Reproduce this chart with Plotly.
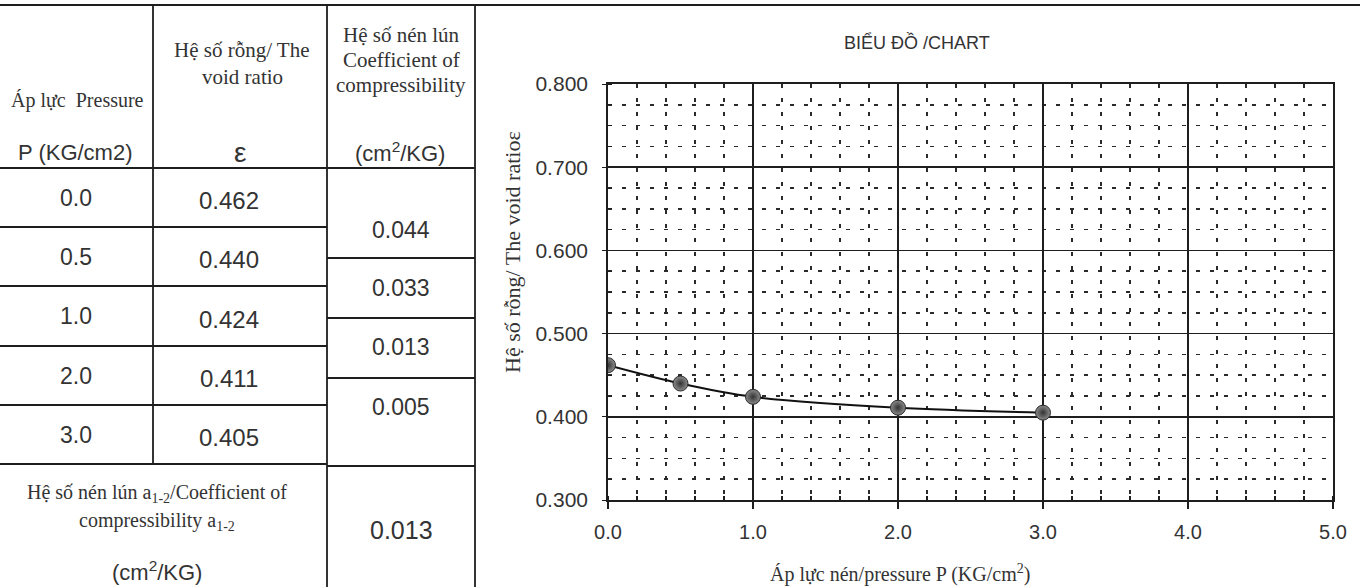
import plotly.graph_objects as go

# ---------------- data ----------------
pressure = [0.0, 0.5, 1.0, 2.0, 3.0]
void_ratio = [0.462, 0.440, 0.424, 0.411, 0.405]
coef_compress = [0.044, 0.033, 0.013, 0.005]
coef_a12 = 0.013
x_ticks = [0.0, 1.0, 2.0, 3.0, 4.0, 5.0]
y_ticks = [0.300, 0.400, 0.500, 0.600, 0.700, 0.800]

W, H = 1360, 587
def px(x):
    return x / W
def py(y):
    return 1 - y / H

INK = "#1e1e1e"
TXT = "#333333"
SERIF = "Liberation Serif, Times New Roman, serif"
SANS = "Liberation Sans, Arial, sans-serif"

fig = go.Figure()

fig.add_trace(go.Scatter(
    x=pressure, y=void_ratio, mode="lines+markers",
    line=dict(color="#111", width=2, shape="spline", smoothing=0.9),
    marker=dict(size=15, color="#8c8c8c",
                gradient=dict(type="radial", color="#333333"),
                line=dict(color="#2a2a2a", width=1)),
    showlegend=False, hoverinfo="skip"))

grid_dash = "4px,10px"
fig.update_xaxes(
    range=[0, 5], tickvals=x_ticks, ticktext=[f"{v:.1f}" for v in x_ticks],
    showgrid=True, gridcolor=INK, gridwidth=1.5,
    minor=dict(dtick=0.2, tick0=0, showgrid=True, gridcolor="#2a2a2a",
               griddash=grid_dash, gridwidth=1.5, ticks="inside", ticklen=4,
               tickcolor=INK),
    showline=True, linecolor=INK, linewidth=1.8, mirror=True,
    ticks="outside", ticklen=7, tickcolor=INK, tickwidth=1.5,
    tickfont=dict(family=SANS, size=20, color=TXT), ticklabelstandoff=6,
    zeroline=False, automargin=False, domain=[px(608), px(1333)])
fig.update_yaxes(
    range=[0.3, 0.8], tickvals=y_ticks, ticktext=[f"{v:.3f}" for v in y_ticks],
    showgrid=True, gridcolor=INK, gridwidth=1.5,
    minor=dict(dtick=0.025, tick0=0.3, showgrid=True, gridcolor="#2a2a2a",
               griddash=grid_dash, gridwidth=1.5, ticks="inside", ticklen=4,
               tickcolor=INK),
    showline=True, linecolor=INK, linewidth=1.8, mirror=True,
    ticks="outside", ticklen=4, tickcolor=INK,
    tickfont=dict(family=SANS, size=21, color=TXT), ticklabelstandoff=10,
    zeroline=False, automargin=False, domain=[py(500), py(84)])

shapes = []
def hline(y, x0, x1, w=1.8):
    shapes.append(dict(type="line", xref="paper", yref="paper",
                       x0=px(x0), x1=px(x1), y0=py(y), y1=py(y),
                       line=dict(color=INK, width=w)))
def vline(x, y0, y1, w=1.8):
    shapes.append(dict(type="line", xref="paper", yref="paper",
                       x0=px(x), x1=px(x), y0=py(y0), y1=py(y1),
                       line=dict(color=INK, width=w)))

# table & frame lines
hline(5, 0, 1360, 2.2)
vline(153, 5, 464)
vline(327, 5, 587)
vline(475, 5, 587)
hline(168, 0, 475)
row_edges = [168, 227, 286, 346, 405, 464]
for y in row_edges[1:]:
    hline(y, 0, 327)
col3_edges = [258, 318, 378, 466]
for y in col3_edges:
    hline(y, 327, 475)

annotations = []
def txt(x, y, s, font=SANS, size=19, **kw):
    d = dict(xref="paper", yref="paper", x=px(x), y=py(y), text=s,
             showarrow=False, xanchor="center", yanchor="middle",
             font=dict(family=font, size=size, color=TXT))
    d.update(kw)
    annotations.append(d)

# header
txt(77, 100, "Áp lực  Pressure", SERIF, 20)
txt(75, 152, "P (KG/cm2)", SANS, 22)
txt(242, 50, "Hệ số rỗng/ The", SERIF, 21)
txt(242, 77, "void ratio", SERIF, 21)
txt(240, 152, "ε", SANS, 28)
txt(401, 35, "Hệ số nén lún", SERIF, 21)
txt(401, 60, "Coefficient of", SERIF, 21)
txt(401, 85, "compressibility", SERIF, 21)
txt(400, 152, "(cm<sup>2</sup>/KG)", SANS, 22)

# rows
for i, (p, e) in enumerate(zip(pressure, void_ratio)):
    yc = (row_edges[i] + row_edges[i + 1]) / 2
    txt(76, yc, f"{p:.1f}", SANS, 23)
    txt(229, yc + 3, f"{e:.3f}", SANS, 24)
col3_y = [230, 288, 347, 407]
for yv, c in zip(col3_y, coef_compress):
    txt(401, yv, f"{c:.3f}", SANS, 23)

# bottom block
txt(157, 493, "Hệ số nén lún a<sub>1-2</sub>/Coefficient of", SERIF, 20)
txt(157, 521, "compressibility a<sub>1-2</sub>", SERIF, 20)
txt(157, 571, "(cm<sup>2</sup>/KG)", SANS, 22)
txt(401, 530, f"{coef_a12:.3f}", SANS, 25)

# chart titles
txt(917, 42, "BIỂU ĐỒ /CHART", SANS, 18)
txt(512, 252, "Hệ số rỗng/ The void ratioε", SERIF, 22, textangle=-90)
txt(900, 573, "Áp lực nén/pressure P (KG/cm<sup>2</sup>)", SERIF, 20)

fig.update_layout(
    width=W, height=H, margin=dict(l=0, r=0, t=0, b=0, autoexpand=False),
    paper_bgcolor="white", plot_bgcolor="white",
    shapes=shapes, annotations=annotations, showlegend=False)

fig.write_html("out.html",
               config={"displayModeBar": False, "staticPlot": True},
               post_script="document.body.style.margin='0';"
                           "document.body.style.overflow='hidden';")
